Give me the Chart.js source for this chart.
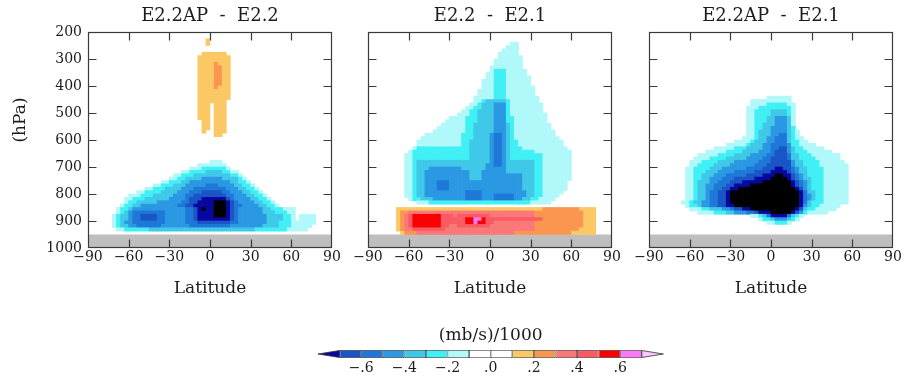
<!DOCTYPE html>
<html><head><meta charset="utf-8">
<script src="https://cdn.jsdelivr.net/npm/chart.js@4"></script>
<style>
html,body{margin:0;padding:0;background:#fff;}
body{width:904px;height:379px;overflow:hidden;position:relative;}
canvas{position:absolute;}
</style></head>
<body>
<canvas id="c1" width="350" height="305" style="left:0px;top:0px"></canvas>
<canvas id="c2" width="350" height="305" style="left:280px;top:0px"></canvas>
<canvas id="c3" width="350" height="305" style="left:561px;top:0px"></canvas>
<canvas id="cb" width="390" height="59" style="left:300px;top:320px"></canvas>
<script>
// ---------- grid axes ----------
const latCenters = [-88.5,-85.5,-82.5,-79.5,-76.5,-73.5,-70.5,-67.5,-64.5,-61.5,-58.5,-55.5,-52.5,-49.5,-46.5,-43.5,-40.5,-37.5,-34.5,-31.5,-28.5,-25.5,-22.5,-19.5,-16.5,-13.5,-10.5,-7.5,-4.5,-1.5,1.5,4.5,7.5,10.5,13.5,16.5,19.5,22.5,25.5,28.5,31.5,34.5,37.5,40.5,43.5,46.5,49.5,52.5,55.5,58.5,61.5,64.5,67.5,70.5,73.5,76.5,79.5,82.5,85.5,88.5];
const pEdges = [200,212.5,225,237.5,250,262.5,275,287.5,300,312.5,325,337.5,350,362.5,375,387.5,400,412.5,425,437.5,450,462.5,475,487.5,500,512.5,525,537.5,550,562.5,575,587.5,600,612.5,625,637.5,650,662.5,675,687.5,700,712.5,725,737.5,750,762.5,775,787.5,800,812.5,825,837.5,850,862.5,875,887.5,900,912.5,925,937.5,950];
const latTicks = [-90,-60,-30,0,30,60,90];
const pTicks = [200,300,400,500,600,700,800,900,1000];
const groundTop = 950, pBottom = 1000;
const cbTicks = [-0.6,-0.4,-0.2,0,0.2,0.4,0.6];
const cbEdges = [-0.7,-0.6,-0.5,-0.4,-0.3,-0.2,-0.1,0,0.1,0.2,0.3,0.4,0.5,0.6,0.7];

// ---------- contour levels ----------
const levelEdges = [-0.8,-0.7,-0.6,-0.5,-0.4,-0.3,-0.2,-0.1,0,0.1,0.2,0.3,0.4,0.5,0.6,0.7];
const levelColors = ['#000000','#0808a0','#1a55c8','#1f78d8','#2a98e2','#40c8e8','#40f0f5','#b0f8fa','#ffffff','#ffffff','#fac864','#fa9650','#fa7878','#fa5a64','#fa0000','#fa78fa','#fac8fa'];
// class codes -> representative value (mb/s)/1000
const codeValues = {k:-0.85,g:-0.75,f:-0.65,e:-0.55,d:-0.45,c:-0.35,b:-0.25,a:-0.15,'.':0,A:0.15,B:0.25,C:0.35,D:0.45,E:0.55,F:0.65,G:0.75};

// ---------- panel values: one run-length row per 12.5 hPa band (200 ... 950), 3-degree columns ----------
const rowsAPminus22 = [
"60.","60.","29.1A30.","29.1A30.","60.","60.","28.6A26.","27.8A25.","27.8A25.","27.4A1B3A25.",
"27.4A2B2A25.","27.4A2B2A25.","27.4A2B2A25.","27.4A2B2A25.","27.4A2B2A25.","27.4A2B2A25.","27.4A1B3A25.","27.8A25.","27.8A25.","27.8A25.",
"27.7A26.","27.3A1.3A26.","27.3A1.3A26.","27.3A1.3A26.","27.3A1.3A26.","27.3A1.3A26.","28.2A1.3A26.","28.2A1.3A26.","28.2A1.3A26.","28.1A2.3A26.",
"31.2A27.","60.","60.","60.","60.","60.","60.","60.","30.3a27.","27.7a26.",
"25.3a6b1a25.","23.2a4b4c2b2a23.","21.2a3b9c2b1a22.","20.2a2b4c5d4c1b1a21.","18.2a3b2c10d2c2b1a20.",
"16.2a3b3c5d3e4d2c2b1a19.","14.2a3b4c3d8e3d2c2b1a18.","12.2a4b4c3d3e5f2e3d2c2b1a17.","10.3a3b5c3d2e8f2e3d2c2b1a16.",
"9.2a3b6c4d1e3f6g1f1e4d2c2b1a15.","9.1a2b5c6d2e2f4g3k1g1f1e4d2c2b1a14.","8.1a2b2c9d2e2f5g3k1g1f2e4d2c2b1a13.",
"7.1a2b1c13d2e1f1g1k2g3k1g1f1e6d2c3b3a9.","7.1a1b1c1d8e5d2e1f4g3k1g1f1e6d3c3b2a9.",
"6.1a1b2c1d2e4f2e5d2e1f4g3k1g1f1e7d4c2b1a1.4a4.","6.1a1b2c1d2e4f2e5d2e1f8g1f1e7d4c2b1a1.4a4.",
"6.1a1b1c2d8e5d3e8f2e7d3c3b6a4.","6.1a1b2c2d6e7d10e8d4c3b5a5.","7.2a6b26c8b5a6.","60."
];
const rows22minus21 = [
"60.","60.","60.","35.2a23.","34.3a23.","33.4a23.","32.5a23.","32.6a22.","31.7a22.","31.7a22.",
"30.8a22.","30.1a3b5a21.","29.2a3b5a21.","29.2a3b6a20.","28.3a3b6a20.","28.3a3b6a20.","28.3a3b7a19.","27.4a3b7a19.","27.4a3b7a19.","26.5a3b8a18.",
"26.2a1b5c1b7a18.","25.2a1b3c3d1b8a17.","24.2a2b3c3d1b8a17.","23.2a2b4c3d1b8a17.","22.3a2b4c3d1b9a16.",
"20.4a3b4c3d2b8a16.","19.5a3b4c3d2b8a16.","18.6a2b5c3d1c1b9a15.","17.7a2b5c3d1c1b9a15.","16.8a2b5c3d1c1b10a14.",
"14.9a3b4c1d2e1d1c1b10a14.","13.10a3b4c1d2e1d1c1b11a13.","12.11a2b5c1d2e1d1c2b11a12.","12.11a2b5c1d2e1d1c2b11a12.",
"11.1a13b5c1d2e1d1c3b11a11.","10.1a14b5c1d2e1d1c6b9a10.","9.2a14b5c1d2e1d1c8b7a10.","9.2a14b5c1d2e1d1c8b7a10.",
"9.2a1b18c1d2e1d7c2b7a10.","9.2a1b17c2d2e1d7c2b7a10.","9.2a1b3c8d6c5d7c2b7a10.","9.2a1b2c11d3c6d7c2b7a10.",
"9.2a1b2c11d3c10d3c2b7a10.","9.2a1b2c11d3c10d3c2b7a10.","9.2a1b2c3d3e18d3c2b6a11.","9.2a1b2c3d3e18d3c2b6a11.",
"9.2a1b2c3d3e18d3c2b6a11.","9.2a1b2c10d4e11d2c2b5a12.","9.2a1b2c10d4e3d5e3d2c2b4a13.","10.1a2b3c8d4e3d5e2d2c2b4a14.",
"12.3a25b5a15.","60.","7.36A9B4A4.","7.1A2B31C12B3A4.","7.1A1B1C1D7E3D1C8D11C12B3A4.",
"7.1A1B1C1D7E6D2E2F1E14D10B3A4.","7.1A1B1C1D7E6D2E1F2E2D10C12B3A4.","7.1A1B1C1D7E2D2C8D11C12B3A4.","7.1A1B2C8D22C11B4A4.","8.1A3B24C14B6A4."
];
const rowsAPminus21 = [
"60.","60.","60.","60.","60.","60.","60.","60.","60.","60.",
"60.","60.","60.","60.","60.","60.","60.","60.","60.","29.6a25.",
"25.10a25.","25.4a5b2a24.","24.3a8b1a24.","24.2a4b4c1b1a24.","24.2a4b4c1b1a24.","24.2a3b2c3d1c1a24.","24.2a3b2c3d1c1a24.","24.2a2b3c3d1c1a24.","24.2a2b2c4d1c1b24.","24.2a1b3c4d1c1b1a23.",
"24.2a1b3c2d2e1c1b1a23.","23.3a1b2c2d3e1c1b2a22.","21.4a1b3c2d3e1c2b2a21.","19.5a1b3c2d4e1d2b4a19.","16.5a3b4c2d2e2f1d1c2b5a17.",
"14.5a4b4c3d1e3f1d1c3b6a15.","12.5a4b4c4d2e3f1e2c3b7a13.","11.4a4b5c4d2e4f1e2c4b6a13.","10.3a4b4c6d3e5f1d2c4b6a12.","10.2a4b4c6d3e6f1d2c4b7a11.",
"9.2a4b3c6d4e3f2g2f1e1d2c4b6a11.","9.2a3b3c4d5e4f4g1f1e1d2c4b6a11.","9.2a2b3c3d5e4f3g2k2g1f1e1d1c4b6a11.","9.2a2b2c3d3e5f4g4k1g1f1e1d2c3b6a11.",
"9.2a1b3c2d3e3f5g7k1g1f1e1d1c3b6a11.","9.2a1b2c2d3e2f4g10k1g1f1e1d1c3b6a11.","9.2a1b2c2d2e2f2g14k1g1f1d1c3b6a11.","9.2a1b2c1d2e2f1g17k1g1e2c2b6a11.",
"9.2a1b2c1d2e2f1g17k1g1e1d1c2b6a11.","9.2a1b2c1d2e2f1g17k1g1e1d1c2b6a11.","8.2a1b2c2d2e2f1g17k1g1e1c3b6a11.","9.1a2b1c2d2e2f2g16k1g1d1c2b5a13.",
"10.3a2b3c2d1e2f2g11k1g1f1c2b5a14.","12.4a3b2c3d2e1f3g5k1g1f1d1b5a16.","25.2a1b1c1e4g1e1c1b1a22.","27.1a2b1c3d1c1b1a23.","29.2a3b1a25.",
"60.","60.","60."
];
const panelTitles = ['E2.2AP  -  E2.2','E2.2  -  E2.1','E2.2AP  -  E2.1'];

// ---------- helpers ----------
const FONT = "'DejaVu Serif', serif";
const TXT = '#1c1c1c';
function colorFor(v){ let i=0; for(const e of levelEdges){ if(v>=e-1e-9) i++; } return levelColors[i]; }
function decode(row){
  let out=''; const re=/(\d+)(.)/g; let m;
  while((m=re.exec(row))!==null){ out+=m[2].repeat(parseInt(m[1],10)); }
  while(out.length<latCenters.length) out+='.';
  return out.slice(0,latCenters.length);
}
function buildBars(rows){
  const grid=rows.map(decode); const data=[], colors=[];
  for(let c=0;c<latCenters.length;c++){
    let j=0;
    while(j<grid.length){
      const code=grid[j][c]; let k=j+1;
      while(k<grid.length && grid[k][c]===code) k++;
      const v=codeValues[code];
      if(v!==undefined && Math.abs(v)>=0.1){ data.push({x:latCenters[c], y:[pEdges[j], pEdges[k]]}); colors.push(colorFor(v)); }
      j=k;
    }
  }
  return {data, colors};
}
const fmtLat = v => v<0 ? '\u2212'+Math.abs(v) : String(v);
const fmtCb = v => { const t=Math.round(Math.abs(v)*10); return (v< -1e-9 ? '\u2212' : '') + '.' + t; };

const groundPlugin = {
  id:'ground',
  beforeDatasetsDraw(chart){
    const {ctx, chartArea:a, scales:{y}} = chart;
    const y0=y.getPixelForValue(groundTop), y1=y.getPixelForValue(pBottom);
    ctx.save(); ctx.fillStyle='#bebebe'; ctx.fillRect(a.left, y0, a.right-a.left, y1-y0); ctx.restore();
  }
};
const framePlugin = {
  id:'frame',
  afterDatasetsDraw(chart){
    const {ctx, chartArea:a, scales:{x,y}} = chart;
    const L=Math.round(a.left)+0.5, R=Math.round(a.right)-0.5, T=Math.round(a.top)+0.5, B=Math.round(a.bottom)-0.5;
    const tl=8;
    ctx.save(); ctx.strokeStyle='#3a3a3a'; ctx.lineWidth=1.2;
    ctx.strokeRect(L,T,R-L,B-T);
    ctx.beginPath();
    latTicks.slice(1,-1).forEach(v=>{ const px=Math.round(x.getPixelForValue(v))+0.5;
      ctx.moveTo(px,B); ctx.lineTo(px,B-tl); ctx.moveTo(px,T); ctx.lineTo(px,T+tl); });
    pTicks.slice(1,-1).forEach(v=>{ const py=Math.round(y.getPixelForValue(v))+0.5;
      ctx.moveTo(L,py); ctx.lineTo(L+tl,py); ctx.moveTo(R,py); ctx.lineTo(R-tl,py); });
    ctx.stroke(); ctx.restore();
  }
};
const hpaPlugin = {
  id:'hpa',
  afterDraw(chart){
    const ctx=chart.ctx; ctx.save(); ctx.translate(21,120); ctx.rotate(-Math.PI/2);
    ctx.font="17px "+FONT; ctx.fillStyle=TXT; ctx.textAlign='center'; ctx.textBaseline='middle';
    ctx.fillText('(hPa)',0,0); ctx.restore();
  }
};

function panelConfig(title, rows, showY){
  const b=buildBars(rows);
  const plugins=[groundPlugin, framePlugin]; if(showY) plugins.push(hpaPlugin);
  return {
    type:'bar',
    data:{datasets:[{data:b.data, backgroundColor:b.colors, borderWidth:0, grouped:false, barPercentage:1, categoryPercentage:1, inflateAmount:0.35}]},
    options:{
      responsive:false, animation:false, events:[],
      layout:{padding:{left:0,right:18,top:0,bottom:0}},
      plugins:{legend:{display:false}, tooltip:{enabled:false},
        title:{display:true, text:title, fullSize:false, color:TXT, font:{family:FONT,size:18,weight:'normal'}, padding:{top:6,bottom:4.4}}},
      scales:{
        x:{type:'linear', min:-90, max:90, offset:false,
           grid:{display:false, drawTicks:false, offset:false}, border:{display:false},
           afterBuildTicks:s=>{ s.ticks=latTicks.map(v=>({value:v})); },
           ticks:{autoSkip:false, maxRotation:0, padding:1, color:TXT, font:{family:FONT,size:14}, callback:v=>fmtLat(v)},
           title:{display:true, text:'Latitude', color:TXT, font:{family:FONT,size:17}, padding:{top:0,bottom:6}},
           afterFit:s=>{ s.height=57; }},
        y:{type:'linear', min:200, max:1000, reverse:true, beginAtZero:false,
           grid:{display:false, drawTicks:false}, border:{display:false},
           afterBuildTicks:s=>{ s.ticks=pTicks.map(v=>({value:v})); },
           ticks:{display:showY, autoSkip:false, padding:6, color:TXT, font:{family:FONT,size:14}, callback:v=>String(v)},
           afterFit:s=>{ s.width=88; }}
      }
    },
    plugins
  };
}

new Chart(document.getElementById('c1'), panelConfig(panelTitles[0], rowsAPminus22, true));
new Chart(document.getElementById('c2'), panelConfig(panelTitles[1], rows22minus21, false));
new Chart(document.getElementById('c3'), panelConfig(panelTitles[2], rowsAPminus21, false));

// ---------- colour bar ----------
const cbBoxes = [];
for(let i=0;i<cbEdges.length-1;i++){ cbBoxes.push({lo:cbEdges[i], hi:cbEdges[i+1], color:colorFor((cbEdges[i]+cbEdges[i+1])/2)}); }
const arrowPlugin = {
  id:'arrows',
  afterDatasetsDraw(chart){
    const {ctx, chartArea:a, scales:{x}} = chart;
    const ym=(a.top+a.bottom)/2;
    const tri=(tipV, baseV, col)=>{
      const xt=x.getPixelForValue(tipV), xb=x.getPixelForValue(baseV);
      ctx.beginPath(); ctx.moveTo(xt,ym); ctx.lineTo(xb,a.top+0.5); ctx.lineTo(xb,a.bottom-0.5); ctx.closePath();
      ctx.fillStyle=col; ctx.fill(); ctx.strokeStyle='#333'; ctx.lineWidth=0.8; ctx.stroke();
    };
    tri(-0.8, cbEdges[0], colorFor(-0.75));
    tri(0.8, cbEdges[cbEdges.length-1], colorFor(0.75));
  }
};
new Chart(document.getElementById('cb'), {
  type:'bar',
  data:{labels:['cb'], datasets:cbBoxes.map(bx=>({data:[[bx.lo,bx.hi]], backgroundColor:bx.color, borderColor:'#333', borderWidth:0.8, borderSkipped:false, grouped:false, barPercentage:1, categoryPercentage:1, inflateAmount:0}))},
  options:{
    indexAxis:'y', responsive:false, animation:false, events:[],
    layout:{padding:{left:18,right:26.6,top:0,bottom:0}},
    plugins:{legend:{display:false}, tooltip:{enabled:false},
      title:{display:true, text:'(mb/s)/1000', fullSize:false, color:TXT, font:{family:FONT,size:17,weight:'normal'}, padding:{top:5.8,bottom:3.8}}},
    scales:{
      x:{type:'linear', min:-0.8, max:0.8, grid:{display:false, drawTicks:false}, border:{display:false},
         afterBuildTicks:s=>{ s.ticks=cbTicks.map(v=>({value:v})); },
         ticks:{autoSkip:false, maxRotation:0, padding:1.6, color:TXT, font:{family:FONT,size:14}, callback:v=>fmtCb(v)},
         afterFit:s=>{ s.height=21; }},
      y:{display:false}
    }
  },
  plugins:[arrowPlugin]
});
</script>
</body></html>
